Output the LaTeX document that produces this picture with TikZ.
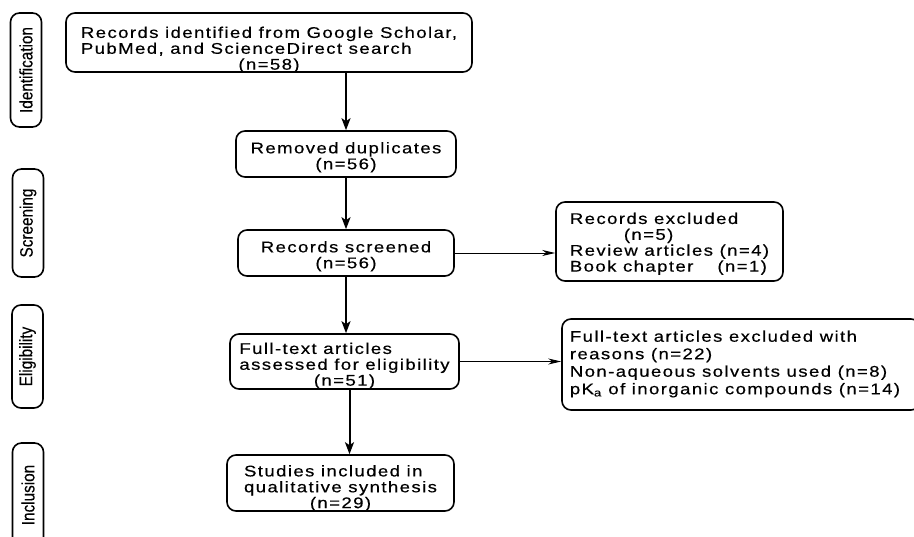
\documentclass[tikz,border=0pt]{standalone}
\usepackage{fontspec}
\newfontfamily\boxfont[FakeStretch=1.2,LetterSpace=9,FakeBold=0.4]{Liberation Sans}
\newfontfamily\sidefont[FakeStretch=0.85,FakeBold=0.3]{Liberation Sans}
\usetikzlibrary{arrows.meta}
% text sits a little low in the boxes
\newcommand{\lowered}[2]{\raisebox{-#1}[\height][\depth]{#2}}
\begin{document}
\begin{tikzpicture}[x=1pt,y=-1pt,
	flowbox/.style={draw,line width=1.6pt,rounded corners=9pt,inner sep=0pt,
		font=\boxfont\fontsize{15.5}{15.5}\selectfont},
	sidebox/.style={draw,line width=1.6pt,rounded corners=9pt,rotate=90,inner sep=0pt,
		minimum height=31pt,font=\sidefont\fontsize{18}{18}\selectfont},
	downarrow/.style={line width=2pt,-{Stealth[length=12pt,width=9pt,inset=3pt]}},
	sidearrow/.style={line width=0.9pt,-{Stealth[length=13pt,width=6pt,inset=4pt]}}]
	\path[use as bounding box,clip] (0,0) rectangle (914,537);
	% phase labels
	\node[sidebox,minimum width=114pt] (identlbl) at (26,70) {Identification};
	\node[sidebox,minimum width=108pt] (screenlbl) at (28,223) {Screening};
	\node[sidebox,minimum width=103pt] (eliglbl) at (27.5,356.5) {Eligibility};
	\node[sidebox,minimum width=104pt] (incllbl) at (28,495) {Inclusion};
	% main column
	\node[flowbox,minimum width=406pt,minimum height=59pt] (ident) at (269,42.5)
		{\lowered{8pt}{\begin{tabular}{@{}l@{}}Records identified from Google Scholar,\\PubMed, and ScienceDirect search\\\multicolumn{1}{@{}c@{}}{(n=58)}\end{tabular}}};
	\node[flowbox,minimum width=220pt,minimum height=46pt] (dup) at (346,154)
		{\lowered{4pt}{\begin{tabular}{@{}c@{}}Removed duplicates\\(n=56)\end{tabular}}};
	\node[flowbox,minimum width=216pt,minimum height=46pt] (screen) at (346,253)
		{\lowered{4pt}{\begin{tabular}{@{}c@{}}Records screened\\(n=56)\end{tabular}}};
	\node[flowbox,minimum width=229pt,minimum height=55pt] (full) at (344.5,361.5)
		{\lowered{5pt}{\begin{tabular}{@{}l@{}}Full-text articles\\assessed for eligibility\\\multicolumn{1}{@{}c@{}}{(n=51)}\end{tabular}}};
	\node[flowbox,minimum width=227pt,minimum height=56pt] (incl) at (340.5,483)
		{\lowered{6pt}{\begin{tabular}{@{}l@{}}Studies included in\\qualitative synthesis\\\multicolumn{1}{@{}c@{}}{(n=29)}\end{tabular}}};
	% exclusions
	\node[flowbox,minimum width=227pt,minimum height=79pt] (excl) at (669.5,241.5)
		{\lowered{3pt}{\begin{tabular}{@{}l@{}}Records excluded\\\hspace*{54pt}(n=5)\\Review articles (n=4)\\Book chapter\hspace*{24pt}(n=1)\end{tabular}}};
	\node[flowbox,minimum width=358pt,minimum height=91pt,
		font=\boxfont\fontsize{15.5}{17.5}\selectfont] (fullexcl) at (741,364.5)
		{\hspace*{-6pt}\begin{tabular}{@{}l@{}}Full-text articles excluded with\\reasons (n=22)\\Non-aqueous solvents used (n=8)\\pK\textsubscript{a} of inorganic compounds (n=14)\end{tabular}\hspace*{6pt}};
	% connectors
	\draw[downarrow] (dup.north |- ident.south) -- (dup.north);
	\draw[downarrow] (dup.south) -- (screen.north);
	\draw[downarrow] (screen.south) -- (screen.south |- full.north);
	\draw[downarrow] ([xshift=5pt]full.south) -- ([xshift=5pt]full.south |- incl.north);
	\draw[sidearrow] (screen.east) -- (screen.east -| excl.west);
	\draw[sidearrow] (full.east) -- (full.east -| fullexcl.west);
\end{tikzpicture}
\end{document}
